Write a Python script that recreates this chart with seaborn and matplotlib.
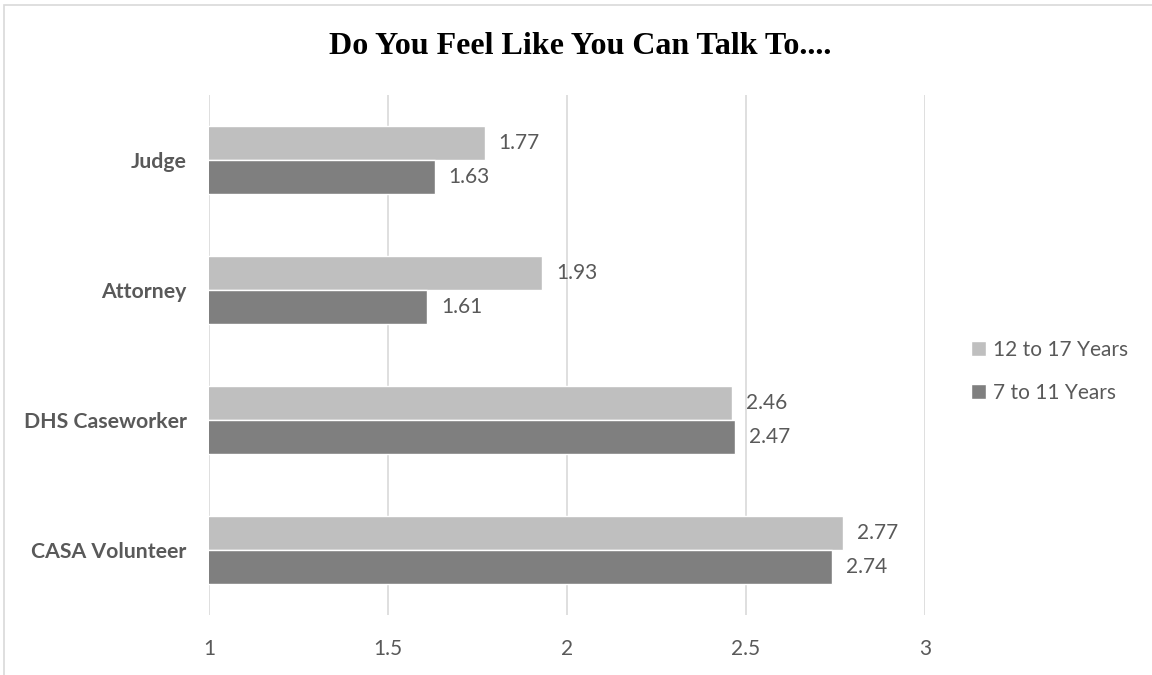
import matplotlib
matplotlib.use("Agg")
import matplotlib.pyplot as plt
import seaborn as sns
import pandas as pd
from matplotlib.patches import Rectangle

categories = ["Judge", "Attorney", "DHS Caseworker", "CASA Volunteer"]
series_names = ["12 to 17 Years", "7 to 11 Years"]
older = [1.77, 1.93, 2.46, 2.77]
younger = [1.63, 1.61, 2.47, 2.74]
x_ticks = [1, 1.5, 2, 2.5, 3]
x_tick_labels = ["1", "1.5", "2", "2.5", "3"]
title = "Do You Feel Like You Can Talk To...."

colors = {"12 to 17 Years": "#bfbfbf", "7 to 11 Years": "#7f7f7f"}
text_color = "#595959"

df = pd.DataFrame({
    "category": categories * 2,
    "group": [series_names[0]] * len(categories) + [series_names[1]] * len(categories),
    "value": older + younger,
})

sns.set_theme(style="white")
plt.rcParams["font.family"] = ["Lato", "DejaVu Sans"]

W, H = 1152, 675
fig = plt.figure(figsize=(W / 100, H / 100), dpi=100)
ax = fig.add_axes([209 / W, 1 - 615 / H, (925 - 209) / W, (615 - 95) / H])

sns.barplot(data=df, y="category", x="value", hue="group", order=categories,
            hue_order=series_names, palette=colors, orient="h", width=0.52,
            saturation=1, ax=ax, legend=True)

ax.set_xlim(1, 3)
ax.set_ylim(3.5, -0.5)
ax.set_xticks(x_ticks)
ax.set_xticklabels(x_tick_labels, fontsize=15, color=text_color)
ax.tick_params(axis="x", length=0, pad=17.5)
ax.tick_params(axis="y", length=0, pad=16)
for lbl in ax.get_yticklabels():
    lbl.set_fontweight("bold")
    lbl.set_fontsize(15.3)
    lbl.set_color(text_color)
ax.set_xlabel("")
ax.set_ylabel("")
ax.grid(axis="x", color="#d9d9d9", linewidth=1.2)
ax.set_axisbelow(True)
for s in ax.spines.values():
    s.set_visible(False)

for cont in ax.containers:
    ax.bar_label(cont, labels=[f"{v:.2f}" for v in cont.datavalues],
                 padding=10, fontsize=15, color=text_color)

ax.legend(loc="center left", bbox_to_anchor=(971 / W, 1 - 371.5 / H),
          bbox_transform=fig.transFigure, frameon=False,
          fontsize=15, labelcolor=text_color, handlelength=0.72,
          handleheight=0.72, handletextpad=0.35, labelspacing=1.1,
          borderpad=0, borderaxespad=0)

fig.text(580 / W, 1 - 46 / H, title, ha="center", va="center",
         fontsize=23, fontweight="bold", family="Liberation Serif", color="black")

# light chart-area frame
fig.patches.append(Rectangle((4 / W, -0.1), 1.2, 1 - 4.5 / H + 0.1,
                             transform=fig.transFigure, fill=False,
                             edgecolor="#d9d9d9", linewidth=1.2))

fig.savefig("out.png", dpi=100)
